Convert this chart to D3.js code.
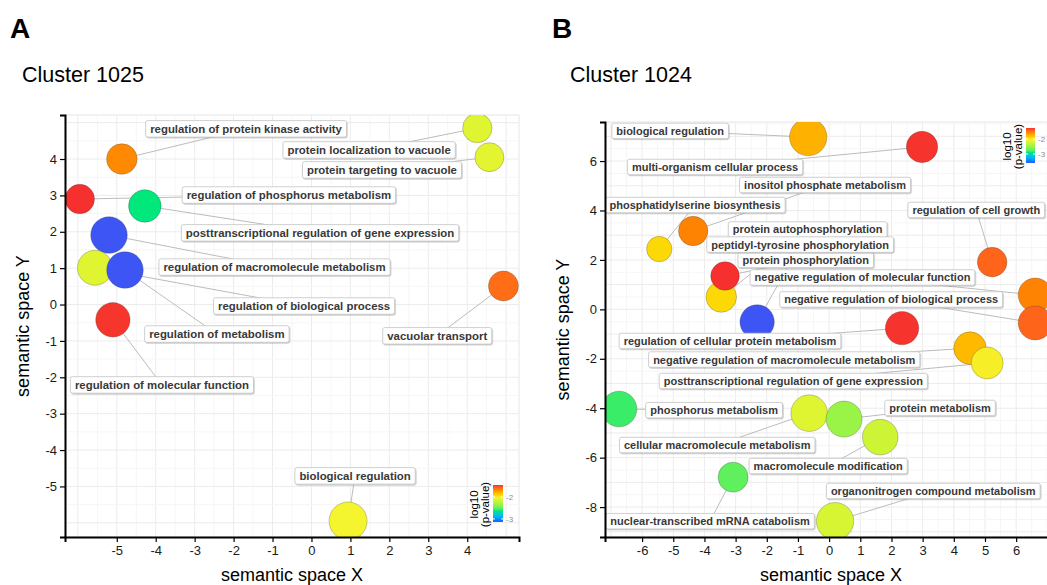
<!DOCTYPE html>
<html>
<head>
<meta charset="utf-8">
<script src="https://cdnjs.cloudflare.com/ajax/libs/d3/7.8.5/d3.min.js"></script>
<title>Semantic space of GO terms</title>
<style>
  body { margin: 0; background: #fff; }
  svg text { font-family: "Liberation Sans", Arial, sans-serif; }
</style>
</head>
<body>
<script>
// ---------- Cluster 1025 (panel A) ----------
var termsA = [
  "regulation of protein kinase activity",
  "regulation of phosphorus metabolism",
  "posttranscriptional regulation of gene expression",
  "regulation of macromolecule metabolism",
  "regulation of biological process",
  "regulation of metabolism",
  "regulation of molecular function",
  "protein localization to vacuole",
  "protein targeting to vacuole",
  "vacuolar transport",
  "biological regulation"
];
var xA = [-4.87, -5.95, -4.28, -5.20, -5.56, -4.79, -5.10, 4.26, 4.57, 4.93, 0.94];
var yA = [4.00, 2.90, 2.71, 1.91, 1.01, 0.95, -0.42, 4.85, 4.05, 0.51, -5.95];
var logSizeA = [3.65, 3.35, 4.15, 5.15, 4.75, 5.15, 4.6, 3.35, 3.25, 3.5, 5.5];
var log10pA = [-1.67, -1.45, -2.62, -3.14, -2.09, -3.14, -1.46, -2.09, -2.08, -1.59, -2.01];
// where the repelled labels ended up, in semantic-space units
var labelXA = [-1.68, -0.58, 0.22, -0.95, -0.19, -2.43, -3.84, 1.48, 1.81, 3.23, 1.12];
var labelYA = [4.83, 3.01, 1.97, 1.03, -0.04, -0.81, -2.21, 4.25, 3.70, -0.86, -4.71];
var xTicksA = [-5, -4, -3, -2, -1, 0, 1, 2, 3, 4];
var yTicksA = [-5, -4, -3, -2, -1, 0, 1, 2, 3, 4];

// ---------- Cluster 1024 (panel B) ----------
var termsB = [
  "biological regulation",
  "multi-organism cellular process",
  "inositol phosphate metabolism",
  "phosphatidylserine biosynthesis",
  "protein autophosphorylation",
  "protein phosphorylation",
  "peptidyl-tyrosine phosphorylation",
  "regulation of cell growth",
  "negative regulation of molecular function",
  "negative regulation of biological process",
  "regulation of cellular protein metabolism",
  "negative regulation of macromolecule metabolism",
  "posttranscriptional regulation of gene expression",
  "phosphorus metabolism",
  "cellular macromolecule metabolism",
  "protein metabolism",
  "macromolecule modification",
  "nuclear-transcribed mRNA catabolism",
  "organonitrogen compound metabolism"
];
var xB = [-0.67, 2.98, -4.36, -5.45, -3.46, -3.34, -2.31, 5.23, 6.61, 6.61, 2.34, 4.52, 5.07, -6.74, -0.64, 0.48, 1.64, -3.08, 0.19];
var yB = [6.97, 6.57, 3.17, 2.44, 0.50, 1.35, -0.51, 1.91, 0.58, -0.55, -0.76, -1.57, -2.17, -4.03, -4.20, -4.44, -5.17, -6.79, -8.57];
var logSizeB = [5.35, 3.85, 3.35, 2.35, 3.65, 3.15, 4.6, 3.4, 4.5, 4.5, 4.35, 4.15, 4.0, 4.9, 5.15, 5.0, 4.9, 3.5, 5.35];
var log10pB = [-1.74, -1.28, -1.55, -1.92, -1.92, -1.27, -3.6, -1.43, -1.55, -1.43, -1.28, -1.78, -2.02, -2.83, -2.16, -2.5, -2.25, -2.74, -2.2];
var labelXB = [-5.10, -3.66, -0.13, -4.30, -0.69, -0.75, -0.93, 4.72, 1.07, 1.99, -3.18, -1.44, -1.15, -3.69, -3.59, 3.56, -0.03, -3.82, 3.34];
var labelYB = [7.22, 5.76, 5.03, 4.22, 3.23, 2.00, 2.62, 4.02, 1.29, 0.40, -1.28, -2.03, -2.90, -4.08, -5.49, -3.99, -6.34, -8.57, -7.35];
var xTicksB = [-6, -5, -4, -3, -2, -1, 0, 1, 2, 3, 4, 5, 6];
var yTicksB = [-8, -6, -4, -2, 0, 2, 4, 6];
var legendTicks = [-2, -3];

var width = 1047;
var height = 585;

var svg = d3.select("body")
            .append("svg")
            .attr("width", width)
            .attr("height", height);

var defs = svg.append("defs");
defs.append("filter")
    .attr("id", "shadow")
    .attr("x", "-10%").attr("y", "-30%")
    .attr("width", "120%").attr("height", "160%")
    .append("feDropShadow")
    .attr("dx", 0.8).attr("dy", 1)
    .attr("stdDeviation", 0.7)
    .attr("flood-color", "#888")
    .attr("flood-opacity", 0.45);

function rows(terms, xs, ys, sizes, ps, lxs, lys) {
    return terms.map(function(t, i) {
        return {term: t, x: xs[i], y: ys[i], size: sizes[i], p: ps[i], lx: lxs[i], ly: lys[i]};
    });
}

var panels = [
    {
        id: "A", title: "Cluster 1025", letterX: 10, titleX: 22,
        data: rows(termsA, xA, yA, logSizeA, log10pA, labelXA, labelYA),
        left: 65, right: 519, top: 115, bottom: 537,
        xDomain: [-6.33, 5.33], yDomain: [-6.39, 5.21],
        xTicks: xTicksA, yTicks: yTicksA,
        legend: {x: 493, y: 485, w: 10, h: 37},
        labelFont: 11.4, boxH: 16.5,
        yTitleX: 29, xTitleY: 581
    },
    {
        id: "B", title: "Cluster 1024", letterX: 552, titleX: 570,
        data: rows(termsB, xB, yB, logSizeB, log10pB, labelXB, labelYB),
        left: 605, right: 1057, top: 122, bottom: 537,
        xDomain: [-7.19, 7.31], yDomain: [-9.21, 7.58],
        xTicks: xTicksB, yTicks: yTicksB,
        legend: {x: 1026, y: 128, w: 9, h: 35},
        labelFont: 11, boxH: 15.5,
        yTitleX: 569, xTitleY: 581
    }
];

panels.forEach(drawPanel);

function drawPanel(p) {
    var xScale = d3.scaleLinear().domain(p.xDomain).range([p.left, p.right]);
    var yScale = d3.scaleLinear().domain(p.yDomain).range([p.bottom, p.top]);
    var rScale = d3.scaleLinear().domain([2, 6]).range([12, 20]);

    // colour bar limits follow the data range, like ggplot does
    var ext = d3.extent(p.data, function(d){ return d.p; });
    var lo = ext[0], hi = ext[1], step = (hi - lo) / 3;
    var color = d3.scaleLinear()
                  .domain([lo, lo + step, lo + 2 * step, hi])
                  .range(["#3d55f5", "#44ee66", "#f4f530", "#f5302e"])
                  .interpolate(d3.interpolateHcl)
                  .clamp(true);

    var g = svg.append("g");

    // letter and cluster title
    g.append("text")
        .attr("x", p.letterX).attr("y", 38)
        .attr("font-size", 28).attr("font-weight", "bold")
        .text(p.id);
    g.append("text")
        .attr("x", p.titleX).attr("y", 82)
        .attr("font-size", 21.5)
        .text(p.title);

    // panel background and grid
    g.append("rect")
        .attr("x", p.left).attr("y", p.top)
        .attr("width", p.right - p.left).attr("height", p.bottom - p.top)
        .attr("fill", "#fff")
        .attr("stroke", "#e6e6e6");

    var gx = d3.range(Math.ceil(p.xDomain[0] * 2) / 2, p.xDomain[1], 0.5);
    var gy = d3.range(Math.ceil(p.yDomain[0] * 2) / 2, p.yDomain[1], 0.5);
    g.selectAll(".vgrid").data(gx).enter().append("line")
        .attr("x1", function(d){ return xScale(d); })
        .attr("x2", function(d){ return xScale(d); })
        .attr("y1", p.top).attr("y2", p.bottom)
        .attr("stroke", function(d){ return d % 1 === 0 ? "#ececec" : "#f6f6f6"; });
    g.selectAll(".hgrid").data(gy).enter().append("line")
        .attr("y1", function(d){ return yScale(d); })
        .attr("y2", function(d){ return yScale(d); })
        .attr("x1", p.left).attr("x2", p.right)
        .attr("stroke", function(d){ return d % 1 === 0 ? "#ececec" : "#f6f6f6"; });

    var clipId = "clip" + p.id;
    defs.append("clipPath").attr("id", clipId)
        .append("rect")
        .attr("x", p.left).attr("y", p.top)
        .attr("width", p.right - p.left).attr("height", p.bottom - p.top);

    var plot = g.append("g").attr("clip-path", "url(#" + clipId + ")");

    // label segments (under the bubbles and boxes)
    plot.selectAll(".seg").data(p.data).enter().append("line")
        .attr("x1", function(d){ return xScale(d.x); })
        .attr("y1", function(d){ return yScale(d.y); })
        .attr("x2", function(d){ return xScale(d.lx); })
        .attr("y2", function(d){ return yScale(d.ly); })
        .attr("stroke", "#bcbcbc")
        .attr("stroke-width", 1);

    // bubbles
    plot.selectAll("circle").data(p.data).enter().append("circle")
        .attr("cx", function(d){ return xScale(d.x); })
        .attr("cy", function(d){ return yScale(d.y); })
        .attr("r", function(d){ return rScale(d.size); })
        .attr("fill", function(d){ return color(d.p); })
        .attr("stroke", "rgba(60,60,60,0.35)")
        .attr("stroke-width", 0.8);

    // labels
    var labels = plot.selectAll(".lab").data(p.data).enter().append("g")
        .attr("transform", function(d){
            return "translate(" + xScale(d.lx) + "," + yScale(d.ly) + ")";
        });
    labels.append("text")
        .attr("text-anchor", "middle")
        .attr("dy", "0.36em")
        .attr("font-size", p.labelFont)
        .attr("font-weight", "bold")
        .attr("fill", "#383838")
        .text(function(d){ return d.term; });
    labels.each(function() {
        var lab = d3.select(this);
        var w = lab.select("text").node().getComputedTextLength() + 9;
        lab.insert("rect", "text")
            .attr("x", -w / 2).attr("y", -p.boxH / 2)
            .attr("width", w).attr("height", p.boxH)
            .attr("rx", 2)
            .attr("fill", "#fff")
            .attr("stroke", "#c4c4c4")
            .attr("stroke-width", 0.8)
            .attr("filter", "url(#shadow)");
    });

    // axes (plain hyphen minus signs, as in the original)
    var fmt = function(d){ return String(d); };
    var xAxis = d3.axisBottom(xScale).tickValues(p.xTicks).tickFormat(fmt)
                  .tickSizeOuter(0).tickSize(5).tickPadding(4);
    var yAxis = d3.axisLeft(yScale).tickValues(p.yTicks).tickFormat(fmt)
                  .tickSizeOuter(0).tickSize(5).tickPadding(3);

    var ax = g.append("g")
        .attr("transform", "translate(0," + p.bottom + ")")
        .call(xAxis);
    var ay = g.append("g")
        .attr("transform", "translate(" + p.left + ",0)")
        .call(yAxis);
    [ax, ay].forEach(function(a) {
        a.select(".domain").attr("stroke", "#000").attr("stroke-width", 2);
        a.selectAll(".tick line").attr("stroke", "#000").attr("stroke-width", 1.2);
        a.selectAll(".tick text")
            .attr("font-size", 13)
            .attr("fill", "#1a1a1a")
            .attr("font-family", "'Liberation Sans', Arial, sans-serif");
    });

    // axis titles
    g.append("text")
        .attr("x", (p.left + p.right) / 2).attr("y", p.xTitleY)
        .attr("text-anchor", "middle")
        .attr("font-size", 18)
        .text("semantic space X");
    g.append("text")
        .attr("transform", "translate(" + p.yTitleX + "," + ((p.top + p.bottom) / 2) + ") rotate(-90)")
        .attr("text-anchor", "middle")
        .attr("font-size", 18)
        .text("semantic space Y");

    // colour legend
    var L = p.legend;
    var gradId = "grad" + p.id;
    var grad = defs.append("linearGradient").attr("id", gradId)
        .attr("x1", 0).attr("y1", 1).attr("x2", 0).attr("y2", 0);
    d3.range(0, 1.0001, 0.05).forEach(function(t) {
        grad.append("stop")
            .attr("offset", t)
            .attr("stop-color", color(lo + t * (hi - lo)));
    });
    var lScale = d3.scaleLinear().domain([lo, hi]).range([L.y + L.h, L.y]);
    var lg = g.append("g");
    lg.append("rect")
        .attr("x", L.x).attr("y", L.y)
        .attr("width", L.w).attr("height", L.h)
        .attr("fill", "url(#" + gradId + ")");
    legendTicks.forEach(function(v) {
        lg.append("line")
            .attr("x1", L.x).attr("x2", L.x + 2)
            .attr("y1", lScale(v)).attr("y2", lScale(v))
            .attr("stroke", "#fff");
        lg.append("line")
            .attr("x1", L.x + L.w - 2).attr("x2", L.x + L.w)
            .attr("y1", lScale(v)).attr("y2", lScale(v))
            .attr("stroke", "#fff");
        lg.append("text")
            .attr("x", L.x + L.w + 3).attr("y", lScale(v))
            .attr("dy", "0.35em")
            .attr("font-size", 8)
            .attr("fill", "#8a8a8a")
            .text(v);
    });
    var lt = lg.append("text")
        .attr("transform", "translate(" + (L.x - 15.5) + "," + (L.y + L.h / 2 + 1) + ") rotate(-90)")
        .attr("text-anchor", "middle")
        .attr("font-size", 11.5);
    lt.append("tspan").attr("x", 0).attr("dy", 0).text("log10");
    lt.append("tspan").attr("x", 0).attr("dy", 11).text("(p-value)");
}
</script>
</body>
</html>
